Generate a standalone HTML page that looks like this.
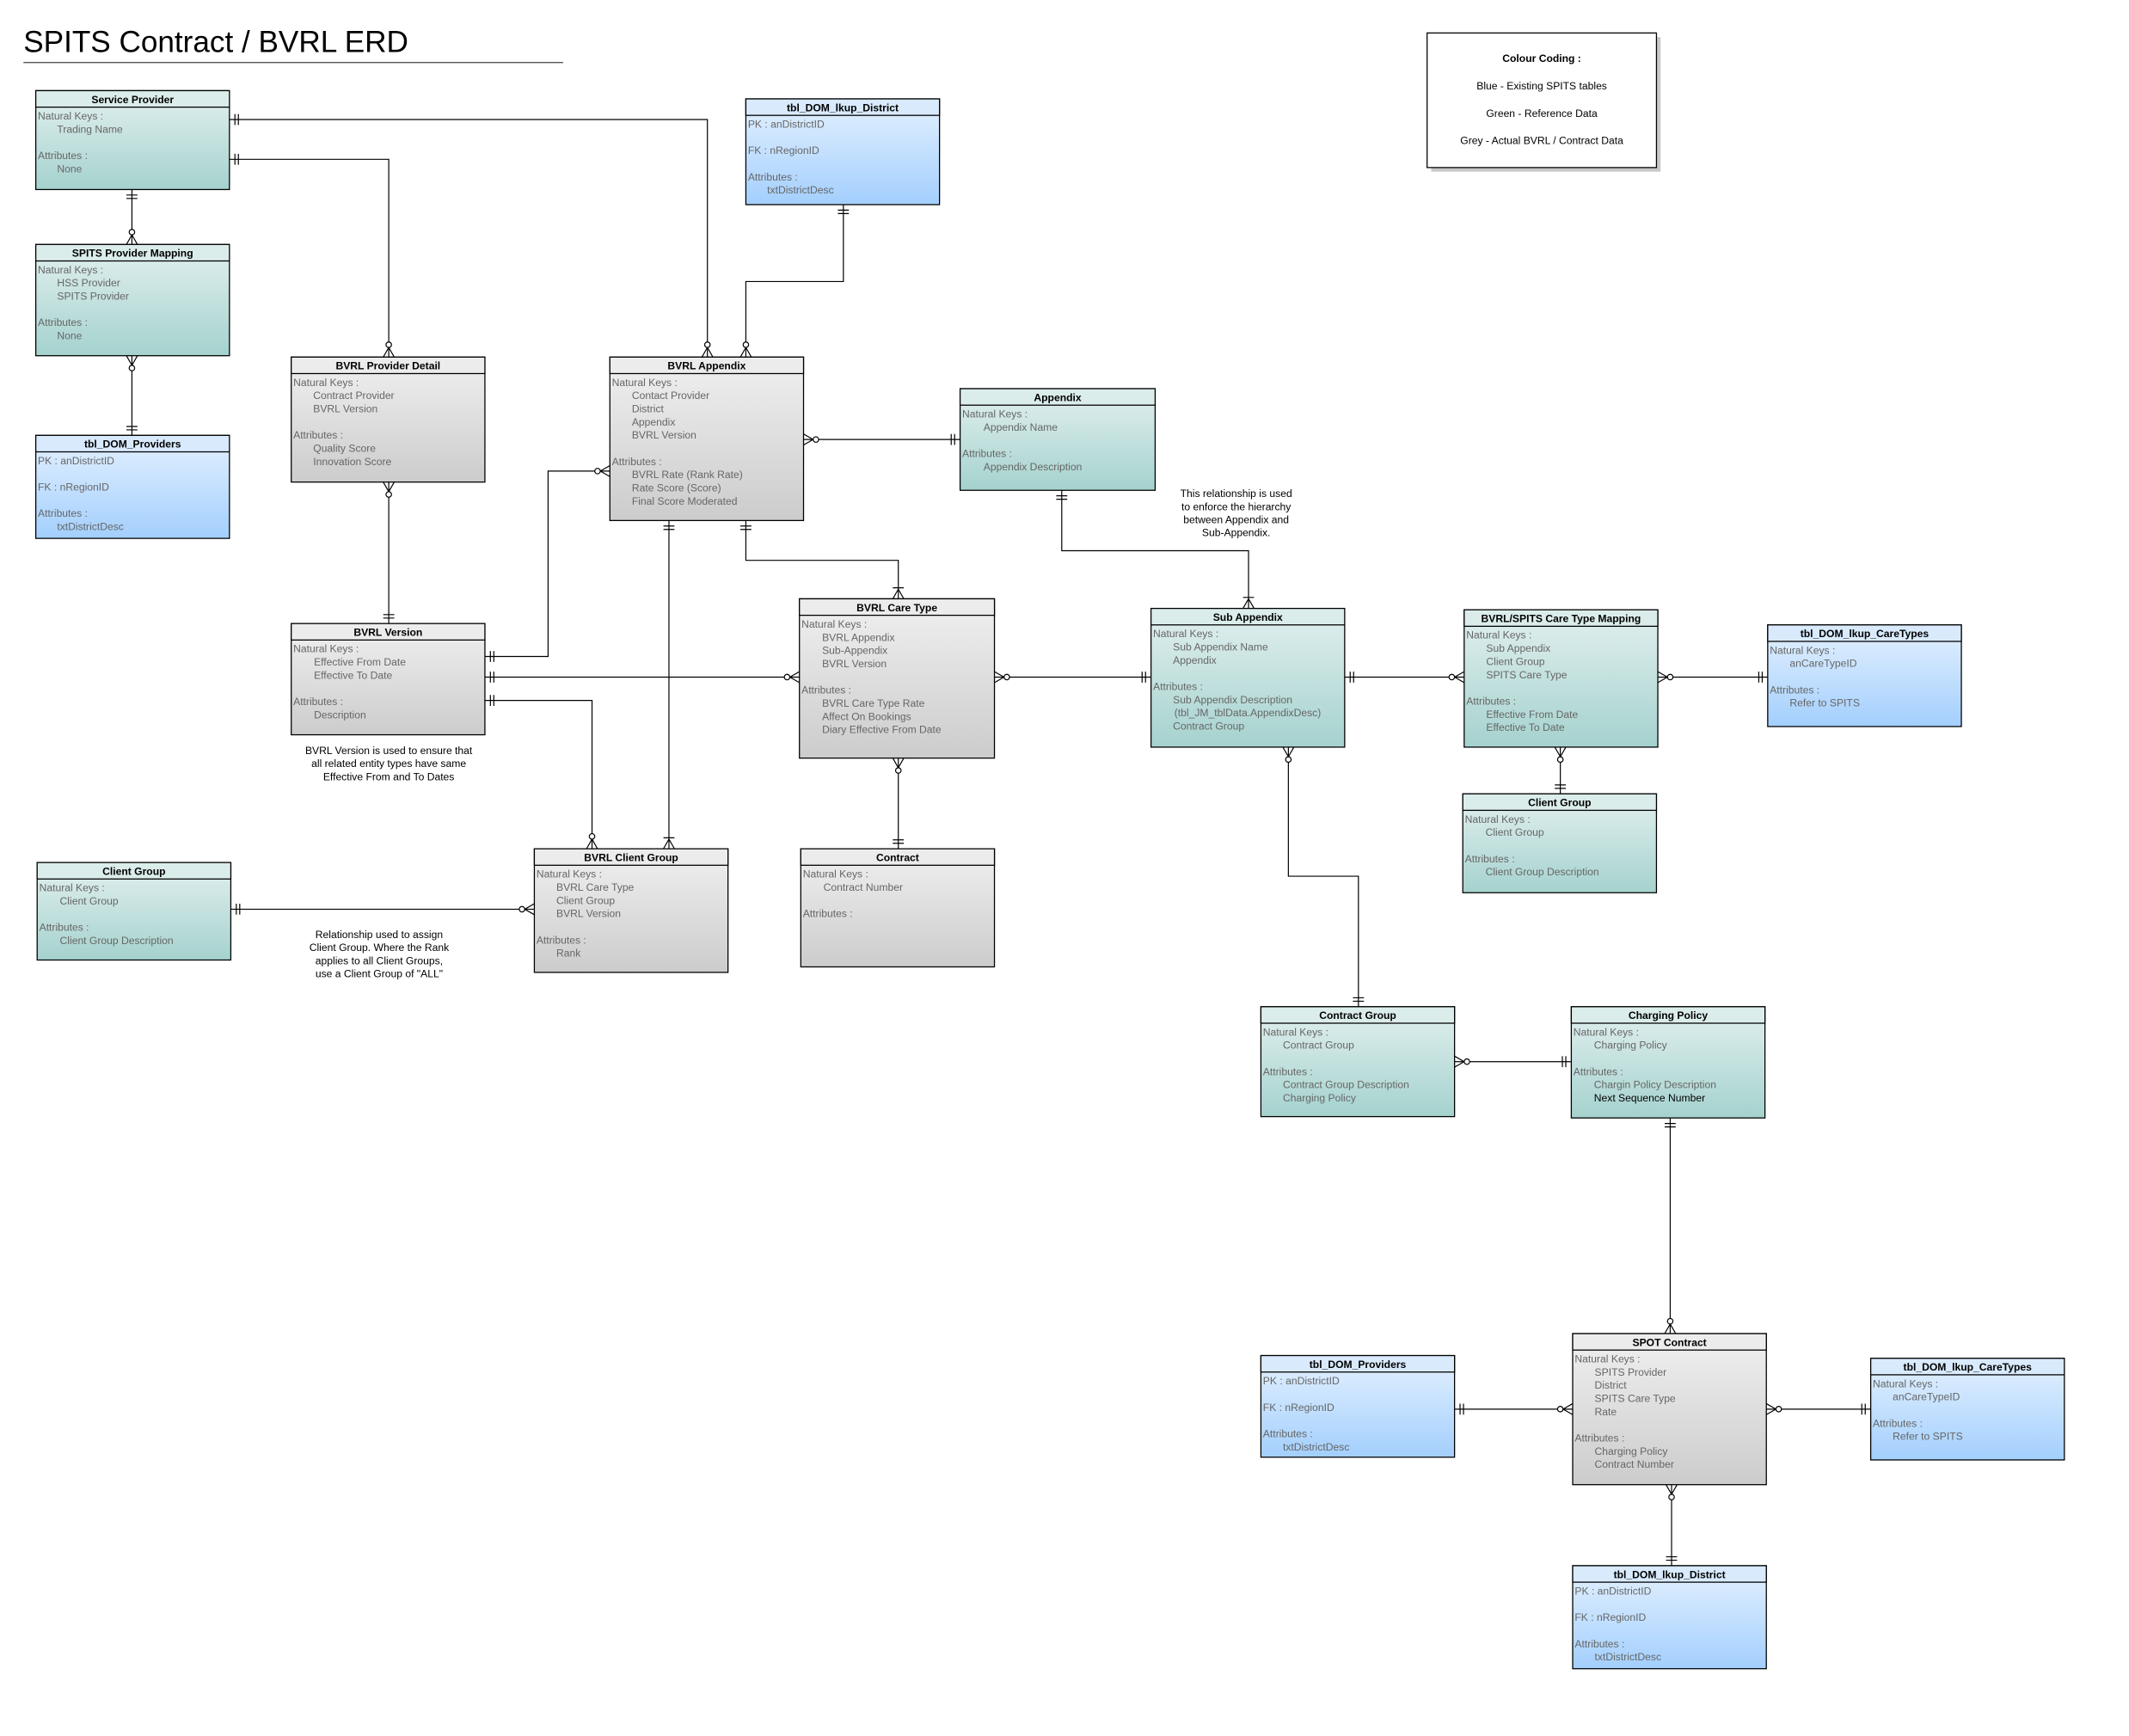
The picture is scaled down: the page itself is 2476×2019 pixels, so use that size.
<!DOCTYPE html>
<html><head><meta charset="utf-8"><style>
html,body{margin:0;padding:0;background:#fff}
svg{display:block}
text{font-family:"Liberation Sans",sans-serif;font-size:7.6px;fill:#666}
.h{font-weight:bold;fill:#000;text-anchor:middle}
.n{fill:#000;text-anchor:middle}
.e{stroke:#000;stroke-width:0.8}
.c{fill:none;stroke:#000;stroke-width:0.75}
</style></head><body>
<svg width="2476" height="2019" viewBox="0 0 1550 1264" xmlns="http://www.w3.org/2000/svg">
<defs>
<linearGradient id="gG" x1="0" y1="0" x2="0" y2="1"><stop offset="0" stop-color="#e2f0ef"/><stop offset="1" stop-color="#a5d2ce"/></linearGradient>
<linearGradient id="gB" x1="0" y1="0" x2="0" y2="1"><stop offset="0" stop-color="#e4f1ff"/><stop offset="1" stop-color="#a3cffd"/></linearGradient>
<linearGradient id="gY" x1="0" y1="0" x2="0" y2="1"><stop offset="0" stop-color="#f0f0f0"/><stop offset="1" stop-color="#cccccc"/></linearGradient>
<marker id="one" viewBox="-14 -6 16 12" refX="0" refY="0" markerWidth="16" markerHeight="12" markerUnits="userSpaceOnUse" orient="auto-start-reverse"><path d="M-4,-4V4M-6.5,-4V4" stroke="#000" stroke-width="0.75" fill="none"/></marker>
<marker id="zm" viewBox="-14 -6 16 12" refX="0" refY="0" markerWidth="16" markerHeight="12" markerUnits="userSpaceOnUse" orient="auto-start-reverse"><path d="M-7,0L0,-4M-7,0L0,4" stroke="#000" stroke-width="0.75" fill="none"/><circle cx="-9" cy="0" r="2" fill="#fff" stroke="#000" stroke-width="0.75"/></marker>
<marker id="om" viewBox="-14 -6 16 12" refX="0" refY="0" markerWidth="16" markerHeight="12" markerUnits="userSpaceOnUse" orient="auto-start-reverse"><path d="M-7,0L0,-4M-7,0L0,4M-8,-4V4" stroke="#000" stroke-width="0.75" fill="none"/></marker>
</defs>

<text x="17" y="38" style="font-size:22px;fill:#000">SPITS Contract / BVRL ERD</text>
<line x1="17" y1="45.5" x2="410" y2="45.5" stroke="#555" stroke-width="0.8"/>

<!-- Colour coding -->
<rect x="1042" y="27" width="167" height="98" fill="#c8c8c8"/>
<rect x="1039" y="24" width="167" height="98" fill="#fff" stroke="#000" stroke-width="0.8"/>
<text class="h" x="1122.5" y="45">Colour Coding :</text>
<text class="n" x="1122.5" y="65">Blue - Existing SPITS tables</text>
<text class="n" x="1122.5" y="85">Green - Reference Data</text>
<text class="n" x="1122.5" y="105">Grey - Actual BVRL / Contract Data</text>

<!-- connectors -->
<g class="c">
<path d="M167,87H515V260" marker-start="url(#one)" marker-end="url(#zm)"/>
<path d="M167,116H283V260" marker-start="url(#one)" marker-end="url(#zm)"/>
<path d="M96,138V178" marker-start="url(#one)" marker-end="url(#zm)"/>
<path d="M96,259V317" marker-start="url(#zm)" marker-end="url(#one)"/>
<path d="M614,149V205H543V260" marker-start="url(#one)" marker-end="url(#zm)"/>
<path d="M585,320H699" marker-start="url(#zm)" marker-end="url(#one)"/>
<path d="M283,351V454" marker-start="url(#zm)" marker-end="url(#one)"/>
<path d="M353,478H399V343H444" marker-start="url(#one)" marker-end="url(#zm)"/>
<path d="M353,493H582" marker-start="url(#one)" marker-end="url(#zm)"/>
<path d="M353,510H431V618" marker-start="url(#one)" marker-end="url(#zm)"/>
<path d="M487,379V618" marker-start="url(#one)" marker-end="url(#om)"/>
<path d="M543,379V408H654V436" marker-start="url(#one)" marker-end="url(#om)"/>
<path d="M724,493H838" marker-start="url(#zm)" marker-end="url(#one)"/>
<path d="M654,552V618" marker-start="url(#zm)" marker-end="url(#one)"/>
<path d="M773,357V401H909V443" marker-start="url(#one)" marker-end="url(#om)"/>
<path d="M979,493H1066" marker-start="url(#one)" marker-end="url(#zm)"/>
<path d="M1207,493H1287" marker-start="url(#zm)" marker-end="url(#one)"/>
<path d="M1136,544V578" marker-start="url(#zm)" marker-end="url(#one)"/>
<path d="M938,544V638H989V733" marker-start="url(#zm)" marker-end="url(#one)"/>
<path d="M1059,773H1144" marker-start="url(#zm)" marker-end="url(#one)"/>
<path d="M1216,814V971" marker-start="url(#one)" marker-end="url(#zm)"/>
<path d="M1059,1026H1145" marker-start="url(#one)" marker-end="url(#zm)"/>
<path d="M1286,1026H1362" marker-start="url(#zm)" marker-end="url(#one)"/>
<path d="M1217,1081V1140" marker-start="url(#zm)" marker-end="url(#one)"/>
<path d="M168,662H389" marker-start="url(#one)" marker-end="url(#zm)"/>
</g>

<!-- Service Provider -->
<g><rect class="e" x="26" y="66" width="141" height="72" fill="url(#gG)"/><rect class="e" x="26" y="66" width="141" height="12" fill="#dbedeb"/>
<text class="h" x="96.5" y="75">Service Provider</text>
<text x="27.5" y="87">Natural Keys :</text><text x="41.5" y="96.6">Trading Name</text><text x="27.5" y="115.8">Attributes :</text><text x="41.5" y="125.4">None</text></g>

<!-- SPITS Provider Mapping -->
<g><rect class="e" x="26" y="178" width="141" height="81" fill="url(#gG)"/><rect class="e" x="26" y="178" width="141" height="12" fill="#dbedeb"/>
<text class="h" x="96.5" y="187">SPITS Provider Mapping</text>
<text x="27.5" y="199">Natural Keys :</text><text x="41.5" y="208.6">HSS Provider</text><text x="41.5" y="218.2">SPITS Provider</text><text x="27.5" y="237.4">Attributes :</text><text x="41.5" y="247">None</text></g>

<!-- tbl_DOM_Providers left -->
<g><rect class="e" x="26" y="317" width="141" height="75" fill="url(#gB)"/><rect class="e" x="26" y="317" width="141" height="12" fill="#d8eafc"/>
<text class="h" x="96.5" y="326">tbl_DOM_Providers</text>
<text x="27.5" y="338">PK : anDistrictID</text><text x="27.5" y="357.2">FK : nRegionID</text><text x="27.5" y="376.4">Attributes :</text><text x="41.5" y="386">txtDistrictDesc</text></g>

<!-- tbl_DOM_lkup_District top -->
<g><rect class="e" x="543" y="72" width="141" height="77" fill="url(#gB)"/><rect class="e" x="543" y="72" width="141" height="12" fill="#d8eafc"/>
<text class="h" x="613.5" y="81">tbl_DOM_lkup_District</text>
<text x="544.5" y="93">PK : anDistrictID</text><text x="544.5" y="112.2">FK : nRegionID</text><text x="544.5" y="131.4">Attributes :</text><text x="558.5" y="141">txtDistrictDesc</text></g>

<!-- BVRL Provider Detail -->
<g><rect class="e" x="212" y="260" width="141" height="91" fill="url(#gY)"/><rect class="e" x="212" y="260" width="141" height="12" fill="#ececec"/>
<text class="h" x="282.5" y="269">BVRL Provider Detail</text>
<text x="213.5" y="281">Natural Keys :</text><text x="228" y="290.6">Contract Provider</text><text x="228" y="300.2">BVRL Version</text><text x="213.5" y="319.4">Attributes :</text><text x="228" y="329">Quality Score</text><text x="228" y="338.6">Innovation Score</text></g>

<!-- BVRL Appendix -->
<g><rect class="e" x="444" y="260" width="141" height="119" fill="url(#gY)"/><rect class="e" x="444" y="260" width="141" height="12" fill="#ececec"/>
<text class="h" x="514.5" y="269">BVRL Appendix</text>
<text x="445.5" y="281">Natural Keys :</text><text x="460" y="290.6">Contact Provider</text><text x="460" y="300.2">District</text><text x="460" y="309.8">Appendix</text><text x="460" y="319.4">BVRL Version</text><text x="445.5" y="338.6">Attributes :</text><text x="460" y="348.2">BVRL Rate (Rank Rate)</text><text x="460" y="357.8">Rate Score (Score)</text><text x="460" y="367.4">Final Score Moderated</text></g>

<!-- Appendix -->
<g><rect class="e" x="699" y="283" width="142" height="74" fill="url(#gG)"/><rect class="e" x="699" y="283" width="142" height="12" fill="#dbedeb"/>
<text class="h" x="770" y="292">Appendix</text>
<text x="700.5" y="304">Natural Keys :</text><text x="716" y="313.6">Appendix Name</text><text x="700.5" y="332.8">Attributes :</text><text x="716" y="342.4">Appendix Description</text></g>

<!-- BVRL Version -->
<g><rect class="e" x="212" y="454" width="141" height="81" fill="url(#gY)"/><rect class="e" x="212" y="454" width="141" height="12" fill="#ececec"/>
<text class="h" x="282.5" y="463">BVRL Version</text>
<text x="213.5" y="475">Natural Keys :</text><text x="228.5" y="484.6">Effective From Date</text><text x="228.5" y="494.2">Effective To Date</text><text x="213.5" y="513.4">Attributes :</text><text x="228.5" y="523">Description</text></g>
<text class="n" x="283" y="549">BVRL Version is used to ensure that</text>
<text class="n" x="283" y="558.5">all related entity types have same</text>
<text class="n" x="283" y="568">Effective From and To Dates</text>

<!-- BVRL Care Type -->
<g><rect class="e" x="582" y="436" width="142" height="116" fill="url(#gY)"/><rect class="e" x="582" y="436" width="142" height="12" fill="#ececec"/>
<text class="h" x="653" y="445">BVRL Care Type</text>
<text x="583.5" y="457">Natural Keys :</text><text x="598.5" y="466.6">BVRL Appendix</text><text x="598.5" y="476.2">Sub-Appendix</text><text x="598.5" y="485.8">BVRL Version</text><text x="583.5" y="505">Attributes :</text><text x="598.5" y="514.6">BVRL Care Type Rate</text><text x="598.5" y="524.2">Affect On Bookings</text><text x="598.5" y="533.8">Diary Effective From Date</text></g>

<text class="n" x="900" y="362">This relationship is used</text>
<text class="n" x="900" y="371.5">to enforce the hierarchy</text>
<text class="n" x="900" y="381">between Appendix and</text>
<text class="n" x="900" y="390.5">Sub-Appendix.</text>

<!-- Sub Appendix -->
<g><rect class="e" x="838" y="443" width="141" height="101" fill="url(#gG)"/><rect class="e" x="838" y="443" width="141" height="12" fill="#dbedeb"/>
<text class="h" x="908.5" y="452">Sub Appendix</text>
<text x="839.5" y="464">Natural Keys :</text><text x="854" y="473.6">Sub Appendix Name</text><text x="854" y="483.2">Appendix</text><text x="839.5" y="502.4">Attributes :</text><text x="854" y="512">Sub Appendix Description</text><text x="855" y="521.6">(tbl_JM_tblData.AppendixDesc)</text><text x="854" y="531.2">Contract Group</text></g>

<!-- Mapping -->
<g><rect class="e" x="1066" y="444" width="141" height="100" fill="url(#gG)"/><rect class="e" x="1066" y="444" width="141" height="12" fill="#dbedeb"/>
<text class="h" x="1136.5" y="453">BVRL/SPITS Care Type Mapping</text>
<text x="1067.5" y="465">Natural Keys :</text><text x="1082" y="474.6">Sub Appendix</text><text x="1082" y="484.2">Client Group</text><text x="1082" y="493.8">SPITS Care Type</text><text x="1067.5" y="513">Attributes :</text><text x="1082" y="522.6">Effective From Date</text><text x="1082" y="532.2">Effective To Date</text></g>

<!-- CareTypes top -->
<g><rect class="e" x="1287" y="455" width="141" height="74" fill="url(#gB)"/><rect class="e" x="1287" y="455" width="141" height="12" fill="#d8eafc"/>
<text class="h" x="1357.5" y="464">tbl_DOM_lkup_CareTypes</text>
<text x="1288.5" y="476">Natural Keys :</text><text x="1303" y="485.6">anCareTypeID</text><text x="1288.5" y="504.8">Attributes :</text><text x="1303" y="514.4">Refer to SPITS</text></g>

<!-- Client Group right -->
<g><rect class="e" x="1065" y="578" width="141" height="72" fill="url(#gG)"/><rect class="e" x="1065" y="578" width="141" height="12" fill="#dbedeb"/>
<text class="h" x="1135.5" y="587">Client Group</text>
<text x="1066.5" y="599">Natural Keys :</text><text x="1081.5" y="608.6">Client Group</text><text x="1066.5" y="627.8">Attributes :</text><text x="1081.5" y="637.4">Client Group Description</text></g>

<!-- Client Group left -->
<g><rect class="e" x="27" y="628" width="141" height="71" fill="url(#gG)"/><rect class="e" x="27" y="628" width="141" height="12" fill="#dbedeb"/>
<text class="h" x="97.5" y="637">Client Group</text>
<text x="28.5" y="649">Natural Keys :</text><text x="43.5" y="658.6">Client Group</text><text x="28.5" y="677.8">Attributes :</text><text x="43.5" y="687.4">Client Group Description</text></g>
<text class="n" x="276" y="683">Relationship used to assign</text>
<text class="n" x="276" y="692.5">Client Group. Where the Rank</text>
<text class="n" x="276" y="702">applies to all Client Groups,</text>
<text class="n" x="276" y="711.5">use a Client Group of "ALL"</text>

<!-- BVRL Client Group -->
<g><rect class="e" x="389" y="618" width="141" height="90" fill="url(#gY)"/><rect class="e" x="389" y="618" width="141" height="12" fill="#ececec"/>
<text class="h" x="459.5" y="627">BVRL Client Group</text>
<text x="390.5" y="639">Natural Keys :</text><text x="405" y="648.6">BVRL Care Type</text><text x="405" y="658.2">Client Group</text><text x="405" y="667.8">BVRL Version</text><text x="390.5" y="687">Attributes :</text><text x="405" y="696.6">Rank</text></g>

<!-- Contract -->
<g><rect class="e" x="583" y="618" width="141" height="86" fill="url(#gY)"/><rect class="e" x="583" y="618" width="141" height="12" fill="#ececec"/>
<text class="h" x="653.5" y="627">Contract</text>
<text x="584.5" y="639">Natural Keys :</text><text x="599.5" y="648.6">Contract Number</text><text x="584.5" y="667.8">Attributes :</text></g>

<!-- Contract Group -->
<g><rect class="e" x="918" y="733" width="141" height="80" fill="url(#gG)"/><rect class="e" x="918" y="733" width="141" height="12" fill="#dbedeb"/>
<text class="h" x="988.5" y="742">Contract Group</text>
<text x="919.5" y="754">Natural Keys :</text><text x="934" y="763.6">Contract Group</text><text x="919.5" y="782.8">Attributes :</text><text x="934" y="792.4">Contract Group Description</text><text x="934" y="802">Charging Policy</text></g>

<!-- Charging Policy -->
<g><rect class="e" x="1144" y="733" width="141" height="81" fill="url(#gG)"/><rect class="e" x="1144" y="733" width="141" height="12" fill="#dbedeb"/>
<text class="h" x="1214.5" y="742">Charging Policy</text>
<text x="1145.5" y="754">Natural Keys :</text><text x="1160.5" y="763.6">Charging Policy</text><text x="1145.5" y="782.8">Attributes :</text><text x="1160.5" y="792.4">Chargin Policy Description</text><text x="1160.5" y="802" style="fill:#000">Next Sequence Number</text></g>

<!-- tbl_DOM_Providers 2 -->
<g><rect class="e" x="918" y="987" width="141" height="74" fill="url(#gB)"/><rect class="e" x="918" y="987" width="141" height="12" fill="#d8eafc"/>
<text class="h" x="988.5" y="996">tbl_DOM_Providers</text>
<text x="919.5" y="1008">PK : anDistrictID</text><text x="919.5" y="1027.2">FK : nRegionID</text><text x="919.5" y="1046.4">Attributes :</text><text x="934" y="1056">txtDistrictDesc</text></g>

<!-- SPOT Contract -->
<g><rect class="e" x="1145" y="971" width="141" height="110" fill="url(#gY)"/><rect class="e" x="1145" y="971" width="141" height="12" fill="#ececec"/>
<text class="h" x="1215.5" y="980">SPOT Contract</text>
<text x="1146.5" y="992">Natural Keys :</text><text x="1161" y="1001.6">SPITS Provider</text><text x="1161" y="1011.2">District</text><text x="1161" y="1020.8">SPITS Care Type</text><text x="1161" y="1030.4">Rate</text><text x="1146.5" y="1049.6">Attributes :</text><text x="1161" y="1059.2">Charging Policy</text><text x="1161" y="1068.8">Contract Number</text></g>

<!-- CareTypes 2 -->
<g><rect class="e" x="1362" y="989" width="141" height="74" fill="url(#gB)"/><rect class="e" x="1362" y="989" width="141" height="12" fill="#d8eafc"/>
<text class="h" x="1432.5" y="998">tbl_DOM_lkup_CareTypes</text>
<text x="1363.5" y="1010">Natural Keys :</text><text x="1378" y="1019.6">anCareTypeID</text><text x="1363.5" y="1038.8">Attributes :</text><text x="1378" y="1048.4">Refer to SPITS</text></g>

<!-- District 2 -->
<g><rect class="e" x="1145" y="1140" width="141" height="75" fill="url(#gB)"/><rect class="e" x="1145" y="1140" width="141" height="12" fill="#d8eafc"/>
<text class="h" x="1215.5" y="1149">tbl_DOM_lkup_District</text>
<text x="1146.5" y="1161">PK : anDistrictID</text><text x="1146.5" y="1180.2">FK : nRegionID</text><text x="1146.5" y="1199.4">Attributes :</text><text x="1161" y="1209">txtDistrictDesc</text></g>
</svg>
</body></html>
